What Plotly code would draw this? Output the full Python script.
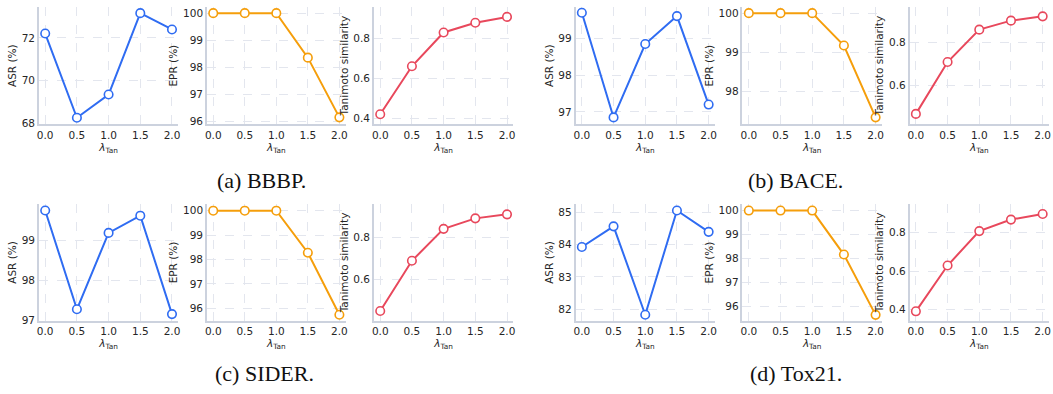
import plotly.graph_objects as go

W, H = 1053, 394

lam = [0.0, 0.5, 1.0, 1.5, 2.0]

# (a) BBBP
asr_bbbp = [72.2, 68.28, 69.36, 73.15, 72.39]
epr_bbbp = [100.0, 100.0, 100.0, 98.36, 96.16]
tan_bbbp = [0.421, 0.661, 0.830, 0.879, 0.908]
# (b) BACE
asr_bace = [99.70, 96.85, 98.85, 99.61, 97.20]
epr_bace = [100.0, 100.0, 100.0, 99.17, 97.33]
tan_bace = [0.468, 0.710, 0.861, 0.903, 0.923]
# (c) SIDER
asr_sider = [99.74, 97.27, 99.18, 99.61, 97.15]
epr_sider = [100.0, 100.0, 100.0, 98.28, 95.74]
tan_sider = [0.451, 0.690, 0.842, 0.892, 0.911]
# (d) Tox21
asr_tox21 = [83.93, 84.57, 81.83, 85.06, 84.40]
epr_tox21 = [100.0, 100.0, 100.0, 98.17, 95.66]
tan_tox21 = [0.390, 0.629, 0.809, 0.869, 0.898]

captions = ["(a) BBBP.", "(b) BACE.", "(c) SIDER.", "(d) Tox21."]
metric_titles = ["ASR (%)", "EPR (%)", "Tanimoto similarity"]
x_title = "<i>λ</i><sub>Tan</sub>"
x_ticks = [0.0, 0.5, 1.0, 1.5, 2.0]

# y ticks / ranges per panel
yticks = {
    ("a", 0): [68, 70, 72], ("a", 1): [96, 97, 98, 99, 100], ("a", 2): [0.4, 0.6, 0.8],
    ("b", 0): [97, 98, 99], ("b", 1): [98, 99, 100], ("b", 2): [0.6, 0.8],
    ("c", 0): [97, 98, 99], ("c", 1): [96, 97, 98, 99, 100], ("c", 2): [0.6, 0.8],
    ("d", 0): [82, 83, 84, 85], ("d", 1): [96, 97, 98, 99, 100], ("d", 2): [0.4, 0.6, 0.8],
}
yranges = {
    ("a", 0): [67.97, 73.44], ("a", 1): [95.9, 100.23], ("a", 2): [0.37, 0.958],
    ("b", 0): [96.66, 99.86], ("b", 1): [97.15, 100.16], ("b", 2): [0.419, 0.967],
    ("c", 0): [96.98, 99.9], ("c", 1): [95.49, 100.27], ("c", 2): [0.404, 0.96],
    ("d", 0): [81.64, 85.26], ("d", 1): [95.41, 100.27], ("d", 2): [0.34, 0.95],
}

groups = [
    ("a", [asr_bbbp, epr_bbbp, tan_bbbp]),
    ("b", [asr_bace, epr_bace, tan_bace]),
    ("c", [asr_sider, epr_sider, tan_sider]),
    ("d", [asr_tox21, epr_tox21, tan_tox21]),
]
colors = ["#2f6cf2", "#f59e0b", "#e8485c"]

# layout geometry (pixels)
col_x = [
    [(37, 177), (205.7, 345), (373.3, 513.3)],
    [(575.7, 715.7), (743.3, 883.3), (911, 1051)],
]
row_y = [(7, 126), (206.7, 325)]
cap_pos = [(260.5, 183), (797, 183), (263, 378), (797, 378)]

fig = go.Figure()
layout = dict(
    width=W, height=H,
    margin=dict(l=0, r=0, t=0, b=0),
    paper_bgcolor="white", plot_bgcolor="white",
    showlegend=False,
    font=dict(family="DejaVu Sans", size=11, color="#262626"),
)
annotations = []
tick_font = dict(family="DejaVu Sans", size=10.5, color="#262626")
title_font = dict(family="DejaVu Sans", size=10.5, color="#262626")
axis_line = "#ccd2de"
grid_col = "#e3e6ee"

idx = 0
for g, (key, series) in enumerate(groups):
    r = g // 2
    c = g % 2
    y0, y1 = row_y[r]
    for k in range(3):
        idx += 1
        x0, x1 = col_x[c][k]
        xa = "x" if idx == 1 else f"x{idx}"
        ya = "y" if idx == 1 else f"y{idx}"
        fig.add_trace(go.Scatter(
            x=lam, y=series[k], xaxis=xa, yaxis=ya, mode="lines+markers",
            line=dict(color=colors[k], width=2),
            marker=dict(symbol="circle", size=8.5, color="white",
                        line=dict(color=colors[k], width=1.6)),
            cliponaxis=False,
        ))
        xkey = "xaxis" if idx == 1 else f"xaxis{idx}"
        ykey = "yaxis" if idx == 1 else f"yaxis{idx}"
        layout[xkey] = dict(
            domain=[x0 / W, x1 / W], anchor=ya, range=[-0.1, 2.1],
            tickvals=x_ticks, tickformat=".1f", ticks="", tickfont=tick_font,
            showgrid=True, gridcolor=grid_col, griddash="dash", gridwidth=1,
            showline=True, linecolor=axis_line, linewidth=1.5, zeroline=False,
            title=dict(text=x_title, font=title_font, standoff=2),
        )
        layout[ykey] = dict(
            domain=[1 - y1 / H, 1 - y0 / H], anchor=xa, range=yranges[(key, k)],
            tickvals=yticks[(key, k)], ticks="", tickfont=tick_font,
            showgrid=True, gridcolor=grid_col, griddash="dash", gridwidth=1,
            showline=True, linecolor=axis_line, linewidth=1.5, zeroline=False,
            title=dict(text=metric_titles[k], font=title_font, standoff=3),
        )
    cx, cy = cap_pos[g]
    annotations.append(dict(
        text=captions[g], x=cx / W, y=1 - cy / H, xref="paper", yref="paper",
        showarrow=False, xanchor="center", yanchor="middle",
        font=dict(family="Liberation Serif", size=22, color="#111111"),
    ))

layout["annotations"] = annotations
fig.update_layout(**layout)
fig.write_html("out.html")
